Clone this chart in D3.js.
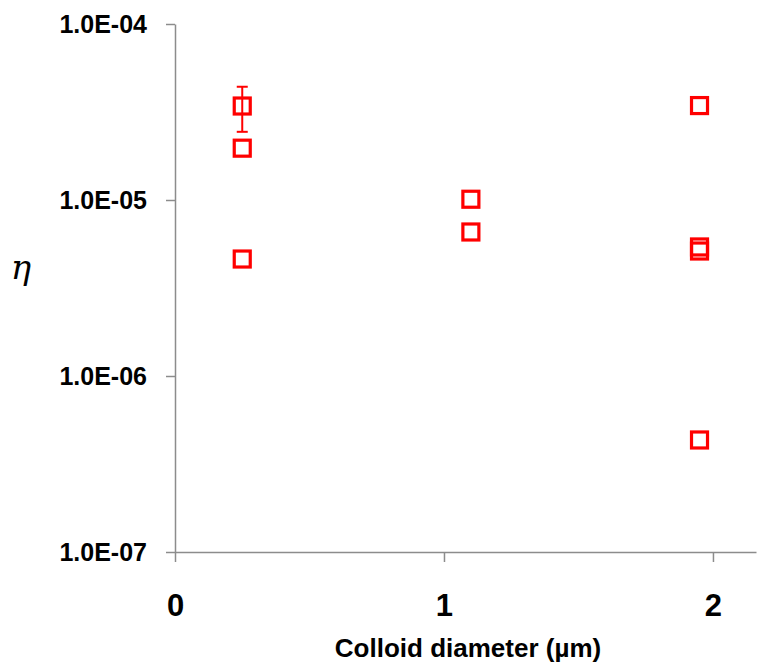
<!DOCTYPE html>
<html>
<head>
<meta charset="utf-8">
<script src="https://cdn.jsdelivr.net/npm/d3@7"></script>
<style>
  html, body { margin: 0; padding: 0; background: #fff; }
  svg { display: block; }
</style>
</head>
<body>
<svg id="chart" width="757" height="664"></svg>
<script>
// Collection efficiency (eta) versus colloid diameter
const diameters = [0.25, 0.25, 0.25, 1.1, 1.1, 1.95, 1.95, 1.95, 1.95];
const etaValues = [3.42e-5, 1.97e-5, 4.62e-6, 1.01e-5, 6.58e-6, 3.44e-5, 5.41e-6, 5.13e-6, 4.33e-7];
const etaErrors = [0.98e-5, 0, 0, 0, 0, 0, 0, 0, 0];
const xTicks = [0, 1, 2];
const yTicks = [1e-7, 1e-6, 1e-5, 1e-4];

const svg = d3.select("#chart");
const axisColor = "#8c8c8c";
const red = "#ff0000";

const x = d3.scaleLinear().domain([0, 2.16]).range([175, 756]);
const y = d3.scaleLog().domain([1e-7, 1e-4]).range([552, 24]);

const fmt = d => "1.0E-" + String(Math.round(-Math.log10(d))).padStart(2, "0");

// y axis
const yAxis = svg.append("g")
  .attr("transform", `translate(${x(0)},0)`)
  .call(d3.axisLeft(y).tickValues(yTicks).tickFormat(fmt).tickSize(9).tickSizeOuter(0).tickPadding(19));
yAxis.select(".domain").attr("stroke", axisColor).attr("stroke-width", 1.5);
yAxis.selectAll(".tick line").attr("stroke", axisColor).attr("stroke-width", 1.5);
yAxis.selectAll(".tick text")
  .attr("fill", "#000")
  .style("font-family", "'Liberation Sans', Arial, sans-serif")
  .style("font-weight", "bold")
  .style("font-size", "25px");

// x axis
const xAxis = svg.append("g")
  .attr("transform", `translate(0,${y(1e-7)})`)
  .call(d3.axisBottom(x).tickValues(xTicks).tickFormat(d3.format("d")).tickSize(10).tickSizeOuter(0).tickPadding(32));
xAxis.select(".domain").attr("stroke", axisColor).attr("stroke-width", 1.5);
xAxis.selectAll(".tick line").attr("stroke", axisColor).attr("stroke-width", 1.5);
xAxis.selectAll(".tick text")
  .attr("fill", "#000")
  .style("font-family", "'Liberation Sans', Arial, sans-serif")
  .style("font-weight", "bold")
  .style("font-size", "31px");

// axis titles
svg.append("text")
  .attr("x", 468).attr("y", 657)
  .attr("text-anchor", "middle")
  .style("font-family", "'Liberation Sans', Arial, sans-serif")
  .style("font-weight", "bold")
  .style("font-size", "26px")
  .text("Colloid diameter (µm)");

svg.append("text")
  .attr("x", 21).attr("y", 279)
  .attr("text-anchor", "middle")
  .style("font-family", "'DejaVu Serif', 'Liberation Serif', serif")
  .style("font-style", "italic")
  .style("font-size", "34px")
  .text("η");

const points = diameters.map((d, i) => ({ d, v: etaValues[i], e: etaErrors[i] }));

// error bars
const capHalf = 5.5;
const errG = svg.append("g").attr("stroke", red).attr("stroke-width", 2);
points.filter(p => p.e > 0).forEach(p => {
  const cx = x(p.d), top = y(p.v + p.e), bot = y(p.v - p.e);
  errG.append("line").attr("x1", cx).attr("x2", cx).attr("y1", top).attr("y2", bot);
  errG.append("line").attr("x1", cx - capHalf).attr("x2", cx + capHalf).attr("y1", top).attr("y2", top);
  errG.append("line").attr("x1", cx - capHalf).attr("x2", cx + capHalf).attr("y1", bot).attr("y2", bot);
});

// square markers
const side = 16;
svg.append("g").selectAll("rect")
  .data(points)
  .join("rect")
  .attr("x", p => x(p.d) - side / 2)
  .attr("y", p => y(p.v) - side / 2)
  .attr("width", side)
  .attr("height", side)
  .attr("fill", "none")
  .attr("stroke", red)
  .attr("stroke-width", 3.2);
</script>
</body>
</html>
